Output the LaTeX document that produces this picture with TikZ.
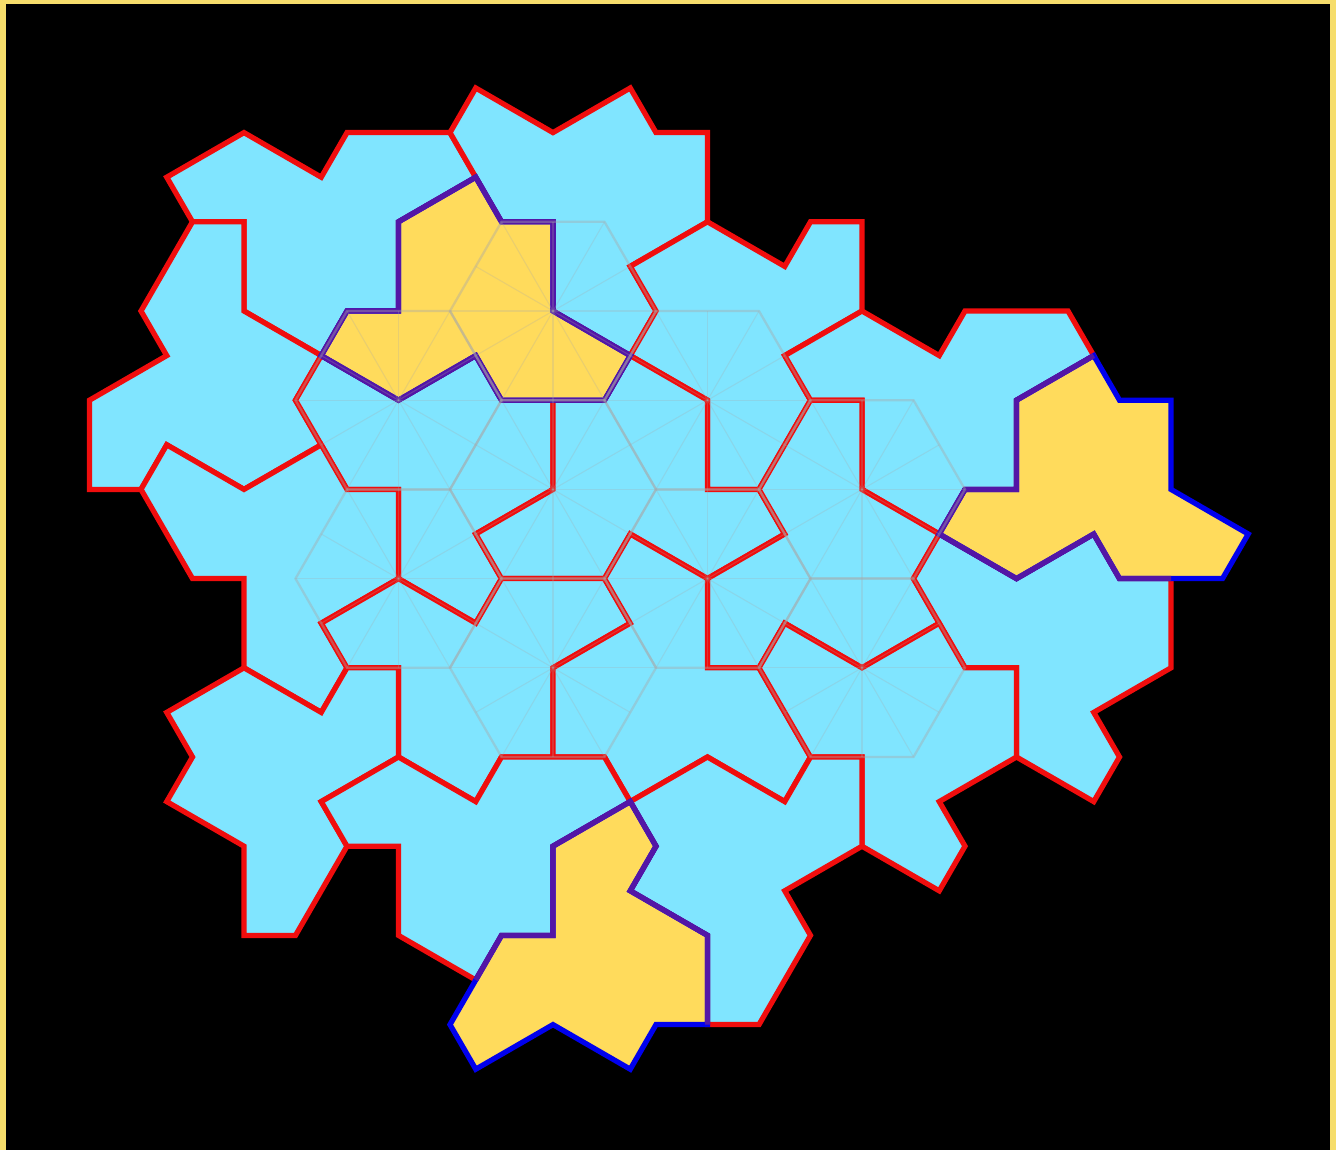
\documentclass[tikz,border=0pt]{standalone}
\usepackage{tikz}

\definecolor{framecol}{HTML}{F6DD6B}
\definecolor{hatcyan}{HTML}{80E5FF}
\definecolor{hatyellow}{HTML}{FFDB5C}
\definecolor{hatred}{HTML}{F00D0D}
\definecolor{hatblue}{HTML}{0000EE}
\definecolor{hatpurple}{HTML}{5316A6}
\definecolor{gridgrey}{HTML}{A8A8A8}

\tikzset{
	cyanhat/.style={draw=hatred,fill=hatcyan,line width=3pt},
	yellowhat/.style={draw=hatblue,fill=hatyellow,line width=3pt},
	sharededge/.style={draw=hatpurple,line width=3pt},
	hexline/.style={draw=gridgrey,opacity=0.4,line width=1.3pt},
	spokeline/.style={draw=gridgrey,opacity=0.25,line width=0.6pt}
}

\begin{document}
\begin{tikzpicture}[x=0.515cm,y=-0.892cm]
			
			\useasboundingbox (-11.06cm,6.22cm) rectangle (15.66cm,-16.78cm);
			
			\fill[framecol] (-11.06cm,6.22cm) rectangle (15.66cm,-16.78cm);
			
			\fill[black] (-10.94cm,6.14cm) rectangle (15.54cm,-16.78cm);
			
			\path[cyanhat] (-15,-3)--(-12,-4)--(-9,-3)--(-8,-4)--(-4,-4)--(-3,-3)--(-6,-2)--(-6,0)--(-8,0)--(-9,1)--(-12,0)--(-12,-2)--(-14,-2)--cycle;
			
			\path[cyanhat] (-3,-5)--(0,-4)--(3,-5)--(4,-4)--(6,-4)--(6,-2)--(3,-1)--(4,0)--(3,1)--(0,0)--(0,-2)--(-2,-2)--(-4,-4)--cycle;
			
			\path[cyanhat] (3,-1)--(6,-2)--(9,-1)--(10,-2)--(12,-2)--(12,0)--(9,1)--(10,2)--(8,4)--(6,4)--(6,2)--(3,1)--(4,0)--cycle;
			
			\path[cyanhat] (9,1)--(12,0)--(15,1)--(16,0)--(20,0)--(21,1)--(18,2)--(18,4)--(16,4)--(15,5)--(12,4)--(12,2)--(10,2)--cycle;
			
			\path[cyanhat] (-14,-2)--(-12,-2)--(-12,0)--(-9,1)--(-10,2)--(-9,3)--(-12,4)--(-15,3)--(-16,4)--(-18,4)--(-18,2)--(-15,1)--(-16,0)--cycle;
			
			\path[cyanhat] (-10,2)--(-9,1)--(-6,2)--(-3,1)--(-2,2)--(0,2)--(0,4)--(-3,5)--(-2,6)--(-3,7)--(-6,6)--(-6,4)--(-8,4)--cycle;
			
			\path[cyanhat] (0,2)--(2,2)--(3,1)--(6,2)--(6,4)--(8,4)--(9,5)--(6,6)--(3,5)--(2,6)--(-2,6)--(-3,5)--(0,4)--cycle;
			
			\path[cyanhat] (10,2)--(12,2)--(12,4)--(15,5)--(14,6)--(15,7)--(12,8)--(9,7)--(8,8)--(6,8)--(6,6)--(9,5)--(8,4)--cycle;
			
			\path[cyanhat] (-15,3)--(-12,4)--(-9,3)--(-8,4)--(-6,4)--(-6,6)--(-9,7)--(-8,8)--(-9,9)--(-12,8)--(-12,6)--(-14,6)--(-16,4)--cycle;
			
			\path[cyanhat] (-9,7)--(-6,6)--(-3,7)--(-2,6)--(2,6)--(3,7)--(0,8)--(0,10)--(-2,10)--(-3,11)--(-6,10)--(-6,8)--(-8,8)--cycle;
			
			\path[cyanhat] (3,7)--(2,6)--(3,5)--(6,6)--(6,8)--(8,8)--(10,10)--(9,11)--(6,10)--(3,11)--(2,10)--(0,10)--(0,8)--cycle;
			
			\path[cyanhat] (15,5)--(18,6)--(21,5)--(22,6)--(24,6)--(24,8)--(21,9)--(22,10)--(21,11)--(18,10)--(18,8)--(16,8)--(14,6)--cycle;
			
			\path[cyanhat] (9,7)--(12,8)--(15,7)--(16,8)--(18,8)--(18,10)--(15,11)--(16,12)--(15,13)--(12,12)--(12,10)--(10,10)--(8,8)--cycle;
			
			\path[cyanhat] (-15,9)--(-12,8)--(-9,9)--(-8,8)--(-6,8)--(-6,10)--(-9,11)--(-8,12)--(-10,14)--(-12,14)--(-12,12)--(-15,11)--(-14,10)--cycle;
			
			\path[cyanhat] (-9,11)--(-6,10)--(-3,11)--(-2,10)--(2,10)--(3,11)--(0,12)--(0,14)--(-2,14)--(-3,15)--(-6,14)--(-6,12)--(-8,12)--cycle;
			
			\path[cyanhat] (3,11)--(6,10)--(9,11)--(10,10)--(12,10)--(12,12)--(9,13)--(10,14)--(8,16)--(6,16)--(6,14)--(3,13)--(4,12)--cycle;
			
			\path[yellowhat] (-3,-3)--(-2,-2)--(0,-2)--(0,0)--(3,1)--(2,2)--(-2,2)--(-3,1)--(-6,2)--(-9,1)--(-8,0)--(-6,0)--(-6,-2)--cycle;
			
			\path[yellowhat] (21,1)--(22,2)--(24,2)--(24,4)--(27,5)--(26,6)--(22,6)--(21,5)--(18,6)--(15,5)--(16,4)--(18,4)--(18,2)--cycle;
			
			\path[yellowhat] (3,11)--(4,12)--(3,13)--(6,14)--(6,16)--(4,16)--(3,17)--(0,16)--(-3,17)--(-4,16)--(-2,14)--(0,14)--(0,12)--cycle;
			
			\path[sharededge] (-3,-3)--(-2,-2)--(0,-2)--(0,0)--(3,1)--(2,2)--(-2,2)--(-3,1)--(-6,2)--(-9,1)--(-8,0)--(-6,0)--(-6,-2)--cycle;
			
			\path[sharededge] (21,1)--(18,2)--(18,4)--(16,4)--(15,5)--(18,6)--(21,5)--(22,6)--(24,6);
			
			\path[sharededge] (-3,15)--(-2,14)--(0,14)--(0,12)--(3,11)--(4,12)--(3,13)--(6,14)--(6,16);
			
			\foreach \cx/\cy in {0/0,-6/2,6/2,0/4,12/4,-6/6,6/6,0/8,12/8}
			{
				\path[hexline,shift={(\cx,\cy)}] (4,0)--(2,2)--(-2,2)--(-4,0)--(-2,-2)--(2,-2)--cycle;
				
				\foreach \px/\py in {4/0,2/2,-2/2,-4/0,-2/-2,2/-2,0/-2,3/-1,3/1,0/2,-3/1,-3/-1}
				{
					\path[spokeline,shift={(\cx,\cy)}] (0,0)--(\px,\py);
				}
			}
			
		\end{tikzpicture}
\end{document}
